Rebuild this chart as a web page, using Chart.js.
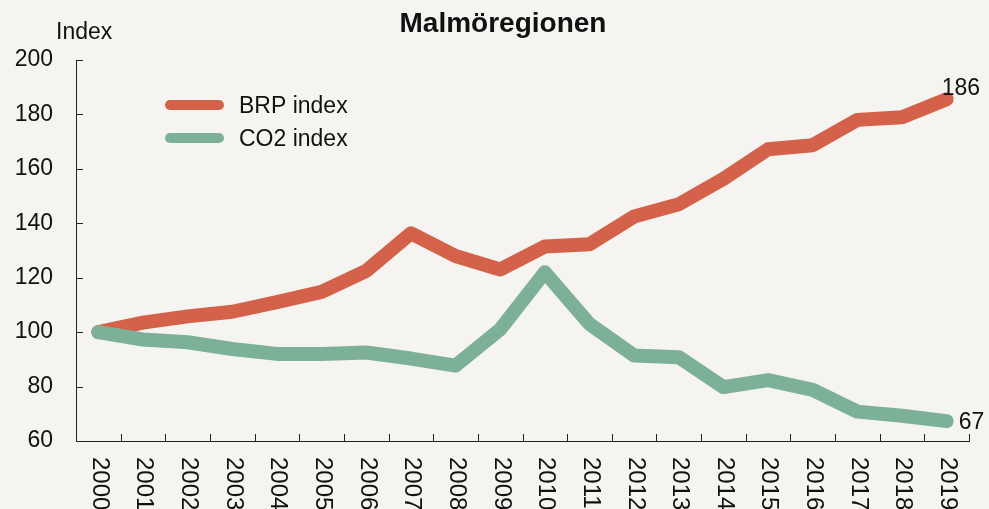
<!DOCTYPE html>
<html>
<head>
<meta charset="utf-8">
<title>Malmöregionen</title>
<script src="https://cdn.jsdelivr.net/npm/chart.js@4.4.0/dist/chart.umd.min.js"></script>
<style>
  html, body { margin: 0; padding: 0; background: #f5f4f0; }
  canvas { display: block; }
</style>
</head>
<body>
<canvas id="indexChart" width="989" height="509"></canvas>
<script>
// Data
const years = ['2000', '2001', '2002', '2003', '2004', '2005', '2006', '2007', '2008', '2009',
               '2010', '2011', '2012', '2013', '2014', '2015', '2016', '2017', '2018', '2019'];
const brpIndex = [100, 103.5, 105.8, 107.5, 111, 114.8, 122.5, 136.3, 128, 123,
                  131.5, 132.3, 142.5, 147, 156.3, 167.2, 168.7, 178, 179, 185.6];
const co2Index = [100, 97.3, 96.3, 93.8, 92, 92, 92.5, 90.3, 87.7, 101,
                  122, 103, 91.4, 90.8, 79.8, 82.4, 78.8, 70.8, 69.3, 67.3];
const yTicks = [60, 80, 100, 120, 140, 160, 180, 200];

const chartTitle = 'Malmöregionen';
const yTitle = 'Index';
const font = '"Liberation Sans", Arial, sans-serif';
const bg = '#f5f4f0';
const ink = '#111';

const decor = {
    id: 'decor',
    beforeDraw(chart) {
        const ctx = chart.ctx;
        ctx.save();
        ctx.fillStyle = bg;
        ctx.fillRect(0, 0, chart.width, chart.height);
        ctx.restore();
    },
    afterDraw(chart) {
        const ctx = chart.ctx;
        const xs = chart.scales.x;
        const ys = chart.scales.y;
        const area = chart.chartArea;
        ctx.save();

        // tick marks, pointing inward
        ctx.strokeStyle = '#222';
        ctx.lineWidth = 1;
        ctx.beginPath();
        yTicks.forEach(v => {
            const y = Math.round(ys.getPixelForValue(v)) + 0.5;
            ctx.moveTo(area.left, y);
            ctx.lineTo(area.left + 7, y);
        });
        for (let i = 1; i <= years.length; i++) {
            let x;
            if (i === years.length) x = area.right;
            else x = (xs.getPixelForValue(i - 1) + xs.getPixelForValue(i)) / 2;
            x = Math.round(x) + 0.5;
            ctx.moveTo(x, area.bottom);
            ctx.lineTo(x, area.bottom - 7);
        }
        ctx.stroke();

        // year labels, rotated clockwise
        ctx.fillStyle = ink;
        ctx.font = '24px ' + font;
        ctx.textAlign = 'left';
        ctx.textBaseline = 'middle';
        years.forEach((yr, i) => {
            ctx.save();
            ctx.translate(xs.getPixelForValue(i) + 1, area.bottom + 16);
            ctx.rotate(Math.PI / 2);
            ctx.fillText(yr, 0, 0);
            ctx.restore();
        });

        // title and axis caption
        ctx.font = 'bold 28px ' + font;
        ctx.textAlign = 'center';
        ctx.fillText(chartTitle, 503, 24);
        ctx.font = '23px ' + font;
        ctx.textAlign = 'left';
        ctx.fillText(yTitle, 56, 33);

        // legend
        chart.data.datasets.forEach((ds, i) => {
            const y = 105 + i * 33;
            ctx.strokeStyle = ds.borderColor;
            ctx.lineWidth = 10;
            ctx.lineCap = 'round';
            ctx.beginPath();
            ctx.moveTo(170, y);
            ctx.lineTo(219, y);
            ctx.stroke();
            ctx.fillStyle = ink;
            ctx.fillText(ds.label, 239, y + 2);
        });

        // end values
        const last = years.length - 1;
        const bx = xs.getPixelForValue(last);
        ctx.fillText(String(Math.round(brpIndex[last])), bx - 5, ys.getPixelForValue(brpIndex[last]) - 11);
        ctx.fillText(String(Math.round(co2Index[last])), bx + 12, ys.getPixelForValue(co2Index[last]) + 2);

        ctx.restore();
    }
};

const ctx = document.getElementById('indexChart').getContext('2d');
const indexChart = new Chart(ctx, {
    type: 'line',
    data: {
        labels: years,
        datasets: [{
            label: 'BRP index',
            data: brpIndex,
            borderColor: '#d4624a',
            borderWidth: 14,
            borderCapStyle: 'round',
            borderJoinStyle: 'round',
            pointRadius: 0,
            tension: 0,
            order: 1
        }, {
            label: 'CO2 index',
            data: co2Index,
            borderColor: '#7db197',
            borderWidth: 14,
            borderCapStyle: 'round',
            borderJoinStyle: 'round',
            pointRadius: 0,
            tension: 0,
            order: 0
        }]
    },
    options: {
        responsive: false,
        animation: false,
        layout: { padding: { top: 60, right: 20, bottom: 0, left: 0 } },
        plugins: {
            legend: { display: false },
            title: { display: false },
            tooltip: { enabled: false }
        },
        scales: {
            x: {
                offset: true,
                grid: { display: false },
                border: { display: true, color: '#222', width: 1 },
                ticks: { display: false },
                afterFit(scale) { scale.height = 68; }
            },
            y: {
                min: 60,
                max: 200,
                grid: { display: false, drawTicks: false },
                border: { display: true, color: '#222', width: 1 },
                ticks: {
                    stepSize: 20,
                    padding: 23,
                    color: ink,
                    font: { family: font, size: 23 }
                },
                afterFit(scale) { scale.width = 76; }
            }
        }
    },
    plugins: [decor]
});
</script>
</body>
</html>
